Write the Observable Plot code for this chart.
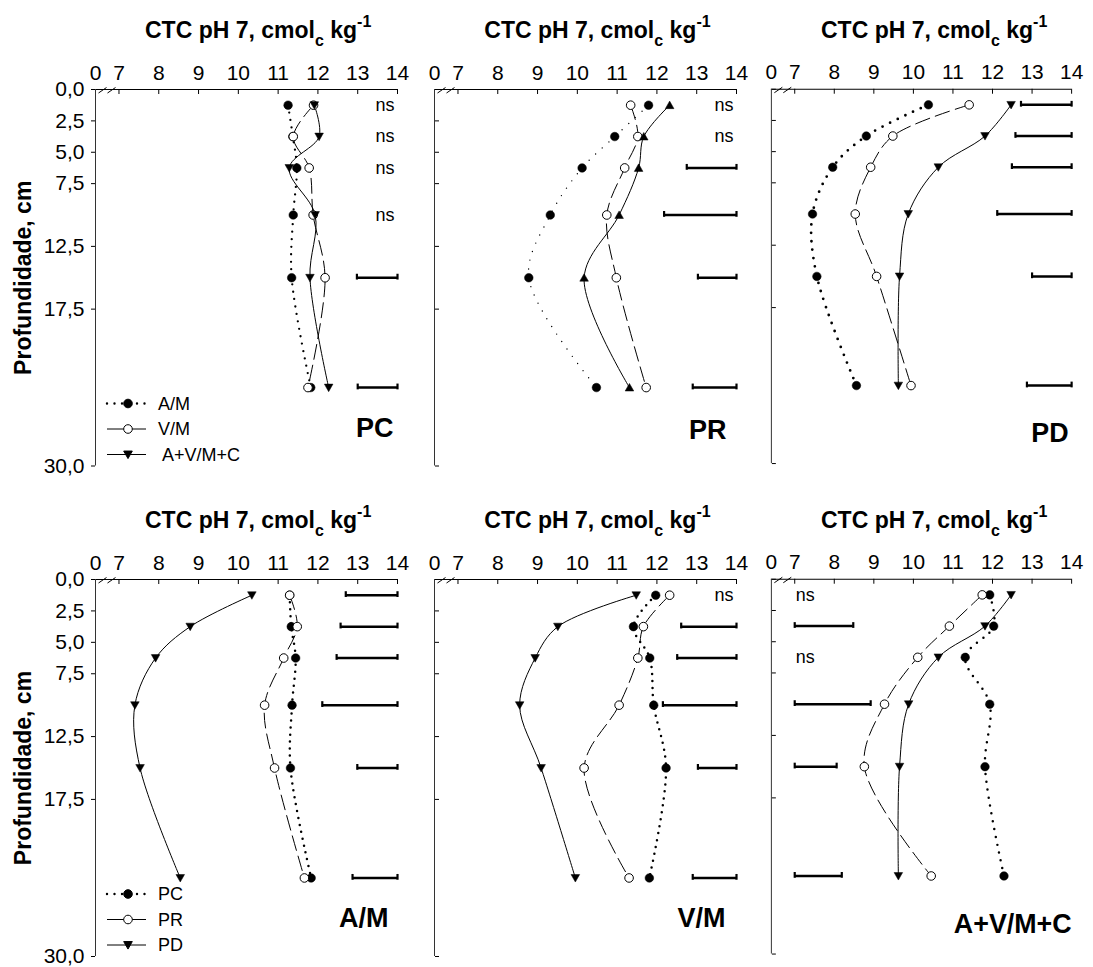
<!DOCTYPE html>
<html><head><meta charset="utf-8">
<script src="https://cdn.jsdelivr.net/npm/d3@7"></script>
<script src="https://cdn.jsdelivr.net/npm/@observablehq/plot@0.6"></script>
<style>
body{margin:0;background:#fff;}
#root{position:relative;width:1093px;height:967px;overflow:hidden;background:#fff;font-family:"Liberation Sans",Arial,sans-serif;color:#000;}
.panel{position:absolute;}
.title{position:absolute;font-weight:bold;font-size:23px;white-space:nowrap;line-height:1;}
.title .sub{font-size:16px;position:relative;top:8px;}
.title .sup{font-size:16px;position:relative;top:-11px;}
</style></head><body><div id="root"></div>
<script>
// ---- data ----
const depths = [1.25, 3.75, 6.25, 10, 15, 23.75];
const depthTicks = [0, 2.5, 5, 7.5, 12.5, 17.5, 30];
const cecTicks = [7, 8, 9, 10, 11, 12, 13, 14];
const cecBreakValue = 6.41; // left edge of the broken axis, labelled "0"

// top row: soil tillage panels (series: A/M, V/M, A+V/M+C)
const PC_AM   = [11.25, 11.37, 11.47, 11.38, 11.34, 11.82];
const PC_VM   = [11.89, 11.38, 11.78, 11.88, 12.18, 11.75];
const PC_AVMC = [11.91, 12.03, 11.28, 11.93, 11.80, 12.27];
const PC_lsd  = [null, null, null, null, 1.02, 1.00];

const PR_AM   = [11.79, 10.94, 10.12, 9.32, 8.78, 10.48];
const PR_VM   = [11.34, 11.52, 11.19, 10.74, 10.98, 11.73];
const PR_AVMC = [12.32, 11.67, 11.54, 11.05, 10.17, 11.31];
const PR_lsd  = [null, null, 1.25, 1.82, 0.97, 1.10];

const PD_AM   = [10.38, 8.81, 7.96, 7.45, 7.56, 8.56];
const PD_VM   = [11.41, 9.48, 8.92, 8.53, 9.07, 9.94];
const PD_AVMC = [12.47, 11.81, 10.63, 9.87, 9.65, 9.62];
const PD_lsd  = [1.28, 1.42, 1.51, 1.88, 1.00, 1.13];

// bottom row: cropping system panels (series: PC, PR, PD)
const AM_PC = [11.29, 11.33, 11.44, 11.35, 11.31, 11.83];
const AM_PR = [11.29, 11.48, 11.14, 10.66, 10.91, 11.66];
const AM_PD = [10.34, 8.79, 7.92, 7.40, 7.53, 8.54];
const AM_lsd = [1.30, 1.43, 1.53, 1.89, 1.01, 1.13];

const VM_PC = [11.97, 11.41, 11.82, 11.92, 12.23, 11.81];
const VM_PR = [12.32, 11.66, 11.52, 11.05, 10.17, 11.30];
const VM_PD = [11.48, 9.51, 8.94, 8.55, 9.09, 9.95];
const VM_lsd = [null, 1.39, 1.49, 1.85, 0.97, 1.10];

const AVMC_PC = [11.93, 12.03, 11.31, 11.93, 11.81, 12.29];
const AVMC_PR = [11.74, 10.91, 10.11, 9.27, 8.76, 10.45];
const AVMC_PD = [12.47, 11.81, 10.63, 9.88, 9.65, 9.62];
const AVMC_lsd = [null, 1.48, null, 1.92, 1.06, 1.19];

const topLegend = ["A/M", "V/M", " A+V/M+C"];
const bottomLegend = ["PC", "PR", "PD"];

// ---- layout ----
const frameLeft = [95, 434.3, 771];
const frameTop = [89, 579];
const frameH = [376.5, 377];
const FW = 302;

const panels = [
  {name: "PC", row: 0, col: 0, series: [PC_AM, PC_VM, PC_AVMC], lsd: PC_lsd, side: "right", legend: topLegend, up: false, nameDx: -4, nameDy: -37.5, dotW: 2.3, dotGap: 7.5},
  {name: "PR", row: 0, col: 1, series: [PR_AM, PR_VM, PR_AVMC], lsd: PR_lsd, side: "right", up: true, nameDx: -10, nameDy: -35.5, dotW: 1.4, dotGap: 9},
  {name: "PD", row: 0, col: 2, series: [PD_AM, PD_VM, PD_AVMC], lsd: PD_lsd, side: "right", up: false, nameDx: -3, nameDy: -30.5, dotW: 2.8, dotGap: 8.5},
  {name: "A/M", row: 1, col: 0, series: [AM_PC, AM_PR, AM_PD], lsd: AM_lsd, side: "right", legend: bottomLegend, up: false, nameDx: -9, nameDy: -38, dotW: 2.5, dotGap: 7},
  {name: "V/M", row: 1, col: 1, series: [VM_PC, VM_PR, VM_PD], lsd: VM_lsd, side: "right", up: false, nameDx: -11, nameDy: -38, dotW: 2.5, dotGap: 7},
  {name: "A+V/M+C", row: 1, col: 2, series: [AVMC_PC, AVMC_PR, AVMC_PD], lsd: AVMC_lsd, side: "left", up: false, nameDx: 0, nameDy: -30, dotW: 2.5, dotGap: 8}
];

const triDown = {draw(ctx, size) { const r = Math.sqrt(size / Math.PI); ctx.moveTo(0, r * 0.95); ctx.lineTo(-r, -r * 0.8); ctx.lineTo(r, -r * 0.8); ctx.closePath(); }};
const triUp = {draw(ctx, size) { const r = Math.sqrt(size / Math.PI); ctx.moveTo(0, -r * 0.95); ctx.lineTo(-r, r * 0.8); ctx.lineTo(r, r * 0.8); ctx.closePath(); }};
const capSym = {draw(ctx, size) { const r = Math.sqrt(size / Math.PI); ctx.moveTo(0, -r); ctx.lineTo(0, r * 0.45); }};

function legendMark(labels) {
  return (index, scales, values, dims) => {
    const g = d3.create("svg:g").attr("font-size", 18).attr("fill", "#000").attr("text-anchor", "start");
    const x0 = dims.marginLeft, yb = dims.height - dims.marginBottom;
    labels.forEach((label, i) => {
      const y = yb - 62 + i * 25.5;
      const line = g.append("line").attr("x1", x0 + 12).attr("x2", x0 + 51).attr("y1", y).attr("y2", y).attr("stroke", "#000").attr("stroke-width", 1);
      if (i === 0) line.attr("stroke-width", 2.4).attr("stroke-dasharray", "0 7.5").attr("stroke-linecap", "round");
      g.append("path").attr("transform", `translate(${x0 + 33},${y})`)
        .attr("d", d3.symbol(i === 2 ? triDown : d3.symbolCircle, Math.PI * 4.3 * 4.3)())
        .attr("fill", i === 1 ? "#fff" : "#000").attr("stroke", "#000");
      g.append("text").attr("x", x0 + 63).attr("y", y).attr("dy", "0.35em")
        .attr("text-anchor", "start").style("white-space", "pre").text(label);
    });
    return g.node();
  };
}

function breakMark(index, scales, values, dims) {
  const g = d3.create("svg:g").attr("stroke", "#000").attr("stroke-width", 1);
  const x0 = dims.marginLeft, y0 = dims.marginTop;
  [7.5, 16.5].forEach(c => g.append("line").attr("x1", x0 + c - 4).attr("y1", y0 + 4).attr("x2", x0 + c + 4).attr("y2", y0 - 1.5));
  return g.node();
}

function buildPanel(p) {
  const fh = frameH[p.row];
  const isLeft = p.col === 0;
  const ml = isLeft ? 95 : 20, mr = 22, mt = 42, mb = 10;
  const rows = depths.map((depth, i) => ({depth, a: p.series[0][i], b: p.series[1][i], c: p.series[2][i]}));
  const lsdRows = depths.map((depth, i) => ({depth, lsd: p.lsd[i]}));
  const bars = lsdRows.filter(d => d.lsd != null).map(d => p.side === "right"
    ? {depth: d.depth, x1: 14 - d.lsd, x2: 14}
    : {depth: d.depth, x1: 7, x2: 7 + d.lsd});
  const caps = bars.flatMap(b => [{depth: b.depth, x: b.x1}, {depth: b.depth, x: b.x2}]);
  const ns = lsdRows.filter(d => d.lsd == null);

  const marks = [
    Plot.ruleY([0], {stroke: "#000", strokeWidth: 1}),
    Plot.ruleX([cecBreakValue], {stroke: "#333", strokeWidth: 1}),
    Plot.axisX({anchor: "top", ticks: [cecBreakValue, ...cecTicks], tickFormat: d => d < 7 ? "0" : String(d), tickSize: 0, tickPadding: 10, fontSize: 21, label: null}),
    Plot.axisX({anchor: "bottom", ticks: cecTicks, tickFormat: () => "", tickSize: 5, dy: -fh, label: null}),
    isLeft
      ? Plot.axisY({anchor: "left", ticks: depthTicks, tickFormat: d => d.toFixed(1).replace(".", ","), tickSize: 4, tickPadding: 7, fontSize: 21, label: null})
      : Plot.axisY({anchor: "right", ticks: depthTicks, tickFormat: () => "", tickSize: 4, dx: -FW, label: null}),
    breakMark,
    Plot.ruleY(bars, {y: "depth", x1: "x1", x2: "x2", stroke: "#000", strokeWidth: 2.5}),
    Plot.dot(caps, {x: "x", y: "depth", symbol: capSym, r: 4, stroke: "#000", strokeWidth: 2.2, fill: "none"}),
    Plot.text(ns, {x: p.side === "right" ? 14 : 7, y: "depth", text: () => "ns", textAnchor: p.side === "right" ? "end" : "start", dx: p.side === "right" ? -3 : 1, fontSize: 18}),
    Plot.line(rows, {x: "a", y: "depth", curve: "catmull-rom", stroke: "#000", strokeWidth: p.dotW, strokeDasharray: `0 ${p.dotGap}`, strokeLinecap: "round"}),
    Plot.line(rows, {x: "b", y: "depth", curve: "catmull-rom", stroke: "#000", strokeWidth: 1, strokeDasharray: "15 6"}),
    Plot.line(rows, {x: "c", y: "depth", curve: "catmull-rom", stroke: "#000", strokeWidth: 1}),
    Plot.dot(rows, {x: "a", y: "depth", r: 4.3, fill: "#000", stroke: "#000", strokeWidth: 0.5}),
    Plot.dot(rows, {x: "b", y: "depth", r: 4.3, fill: "#fff", stroke: "#000", strokeWidth: 1}),
    Plot.dot(rows, {x: "c", y: "depth", r: 4.3, symbol: p.up ? triUp : triDown, fill: "#000", stroke: "#000", strokeWidth: 0.5}),
    Plot.text([p.name], {frameAnchor: "bottom-right", text: d => d, dx: p.nameDx, dy: p.nameDy, textAnchor: "end", lineAnchor: "middle", fontSize: 27, fontWeight: "bold"})
  ];
  if (isLeft) {
    marks.push(Plot.text(["Profundidade, cm"], {frameAnchor: "left", text: d => d, rotate: -90, dx: -72, textAnchor: "middle", lineAnchor: "middle", fontSize: 23, fontWeight: "bold"}));
  }
  if (p.legend) marks.push(legendMark(p.legend));

  const chart = Plot.plot({
    width: ml + FW + mr, height: mt + fh + mb,
    marginLeft: ml, marginRight: mr, marginTop: mt, marginBottom: mb,
    x: {domain: [cecBreakValue, 14]},
    y: {domain: [0, 30], reverse: true},
    style: {fontFamily: "'Liberation Sans', Arial, sans-serif", background: "transparent", color: "#000", overflow: "visible"},
    marks
  });
  const holder = document.createElement("div");
  holder.className = "panel";
  holder.style.left = (frameLeft[p.col] - ml) + "px";
  holder.style.top = (frameTop[p.row] - mt) + "px";
  holder.appendChild(chart);
  return holder;
}

const root = document.getElementById("root");
panels.forEach(p => {
  root.appendChild(buildPanel(p));
  const t = document.createElement("div");
  t.className = "title";
  t.style.left = (frameLeft[p.col] + 50) + "px";
  t.style.top = (frameTop[p.row] - 70) + "px";
  t.innerHTML = 'CTC pH 7, cmol<span class="sub">c</span> kg<span class="sup">-1</span>';
  root.appendChild(t);
});
</script></body></html>
